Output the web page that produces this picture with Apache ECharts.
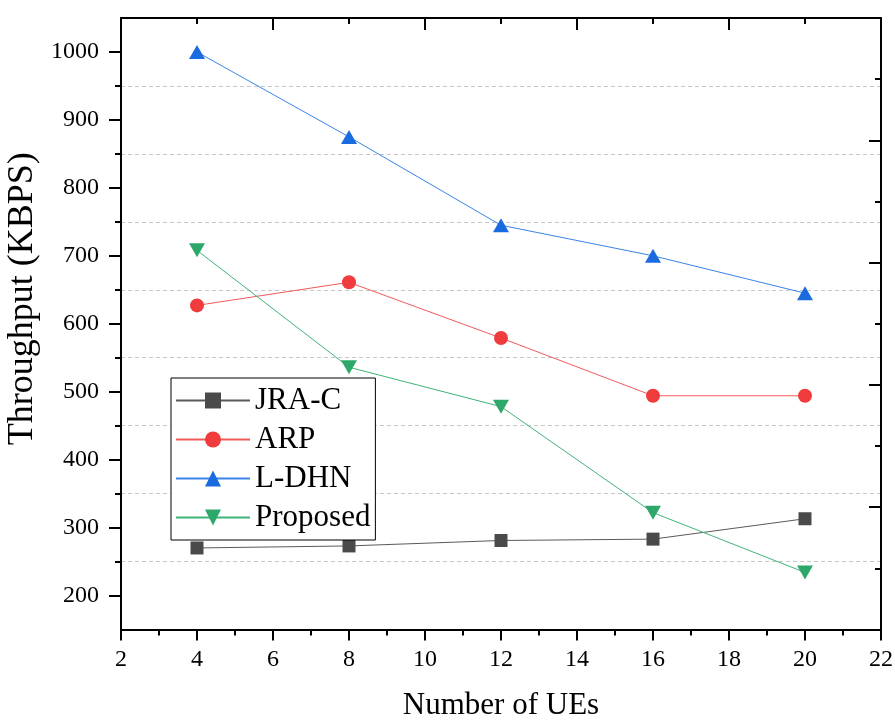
<!DOCTYPE html>
<html>
<head>
<meta charset="utf-8">
<script src="https://cdn.jsdelivr.net/npm/echarts@6/dist/echarts.min.js"></script>
<style>html,body{margin:0;padding:0;background:#fff;}#c{width:895px;height:722px;}</style>
</head>
<body>
<div id="c"></div>
<script>
const ues = [4, 8, 12, 16, 20];
const jraC = [270, 273, 281, 283, 313];
const arp = [627, 661, 579, 494, 494];
const ldhn = [1000, 875, 745, 700, 645];
const proposed = [708, 536, 478, 322, 234];

const xMajorTop = [2, 6, 10, 14, 18, 22];
const xMinorTop = [4, 8, 12, 16, 20];
const yMajor = [200, 300, 400, 500, 600, 700, 800, 900, 1000];
const yMinor = [250, 350, 450, 550, 650, 750, 850, 950];
const rMajor = [330, 510, 690, 870];
const rMinor = [240, 420, 600, 780, 960];

const X_MIN = 2, X_MAX = 22, Y_MIN = 150, Y_MAX = 1050;
const FONT = 'Liberation Serif';
const LFONT = 'serif';
const pair = arr => ues.map((x, i) => [x, arr[i]]);

const chart = echarts.init(document.getElementById('c'), null, {renderer: 'canvas'});
const axisLine = {show: true, onZero: false, lineStyle: {color: '#000', width: 2}};
const rich = {n: {fontFamily: LFONT, fontSize: 24, color: '#000'}};

const option = {
  backgroundColor: '#fff',
  animation: false,
  textStyle: {fontFamily: FONT},
  grid: {left: 121, right: 14, top: 18, bottom: 92.5, containLabel: false, outerBoundsMode: 'none'},
  xAxis: [
    {type: 'value', position: 'bottom', min: X_MIN, max: X_MAX, interval: 2,
     name: 'Number of UEs', nameLocation: 'middle', nameGap: 61,
     nameTextStyle: {fontFamily: FONT, fontSize: 31, color: '#000'},
     axisLine: axisLine,
     axisTick: {show: true, inside: false, length: 11, lineStyle: {color: '#000', width: 2}},
     minorTick: {show: true, splitNumber: 2, length: 6, lineStyle: {color: '#000', width: 2}},
     axisLabel: {show: true, fontFamily: LFONT, fontSize: 24, color: '#000', margin: 18,
                 formatter: v => '{n|' + v + '}', rich: rich},
     splitLine: {show: false}},
    {type: 'value', position: 'top', min: X_MIN, max: X_MAX,
     axisLine: axisLine,
     axisTick: {show: true, inside: true, length: 12, customValues: xMajorTop, lineStyle: {color: '#000', width: 2}},
     axisLabel: {show: false}, splitLine: {show: false}},
    {type: 'value', position: 'top', min: X_MIN, max: X_MAX,
     axisLine: {show: false},
     axisTick: {show: true, inside: true, length: 6, customValues: xMinorTop, lineStyle: {color: '#000', width: 2}},
     axisLabel: {show: false}, splitLine: {show: false}}
  ],
  yAxis: [
    {type: 'value', position: 'left', min: Y_MIN, max: Y_MAX,
     name: 'Throughput (KBPS)', nameLocation: 'middle', nameGap: 80, nameRotate: 90,
     nameTextStyle: {fontFamily: FONT, fontSize: 36, color: '#000', padding: [0, 0, 0, 50]},
     axisLine: axisLine,
     axisTick: {show: true, inside: false, length: 12, customValues: yMajor, lineStyle: {color: '#000', width: 2}},
     axisLabel: {show: true, fontFamily: LFONT, fontSize: 24, color: '#000', margin: 22,
                 customValues: yMajor, formatter: v => '{n|' + v + '}', rich: rich},
     splitLine: {show: false}},
    {type: 'value', position: 'left', min: Y_MIN, max: Y_MAX,
     axisLine: {show: false},
     axisTick: {show: true, inside: false, length: 6, customValues: yMinor, lineStyle: {color: '#000', width: 2}},
     axisLabel: {show: false},
     splitLine: {show: true, lineStyle: {color: '#c8c8c8', width: 1, type: [4, 3]}}},
    {type: 'value', position: 'right', min: Y_MIN, max: Y_MAX,
     axisLine: axisLine,
     axisTick: {show: true, inside: true, length: 12, customValues: rMajor, lineStyle: {color: '#000', width: 2}},
     axisLabel: {show: false}, splitLine: {show: false}},
    {type: 'value', position: 'right', min: Y_MIN, max: Y_MAX,
     axisLine: {show: false},
     axisTick: {show: true, inside: true, length: 6, customValues: rMinor, lineStyle: {color: '#000', width: 2}},
     axisLabel: {show: false}, splitLine: {show: false}}
  ],
  legend: {
    orient: 'vertical', left: 171, top: 378,
    backgroundColor: '#fff', borderColor: '#000', borderWidth: 1,
    padding: [7, 5, 7, 4], itemGap: 8, itemWidth: 74, itemHeight: 20,
    textStyle: {fontFamily: FONT, fontSize: 31, color: '#000'},
    data: ['JRA-C', 'ARP', 'L-DHN', 'Proposed']
  },
  series: [
    {name: 'JRA-C', type: 'line', data: pair(jraC), symbol: 'rect', symbolSize: 13,
     itemStyle: {color: '#4a4a4a'}, lineStyle: {color: '#5a5a5a', width: 1}},
    {name: 'ARP', type: 'line', data: pair(arp), symbol: 'circle', symbolSize: 14,
     itemStyle: {color: '#f03c3c'}, lineStyle: {color: '#f05a5a', width: 1}},
    {name: 'L-DHN', type: 'line', data: pair(ldhn), symbol: 'triangle', symbolSize: [16, 14],
     itemStyle: {color: '#1a6be0'}, lineStyle: {color: '#3a84e8', width: 1}},
    {name: 'Proposed', type: 'line', data: pair(proposed), symbol: 'triangle', symbolRotate: 180, symbolSize: [16, 14],
     itemStyle: {color: '#2ea86a'}, lineStyle: {color: '#40b478', width: 1}}
  ]
};
chart.setOption(option);
</script>
</body>
</html>
